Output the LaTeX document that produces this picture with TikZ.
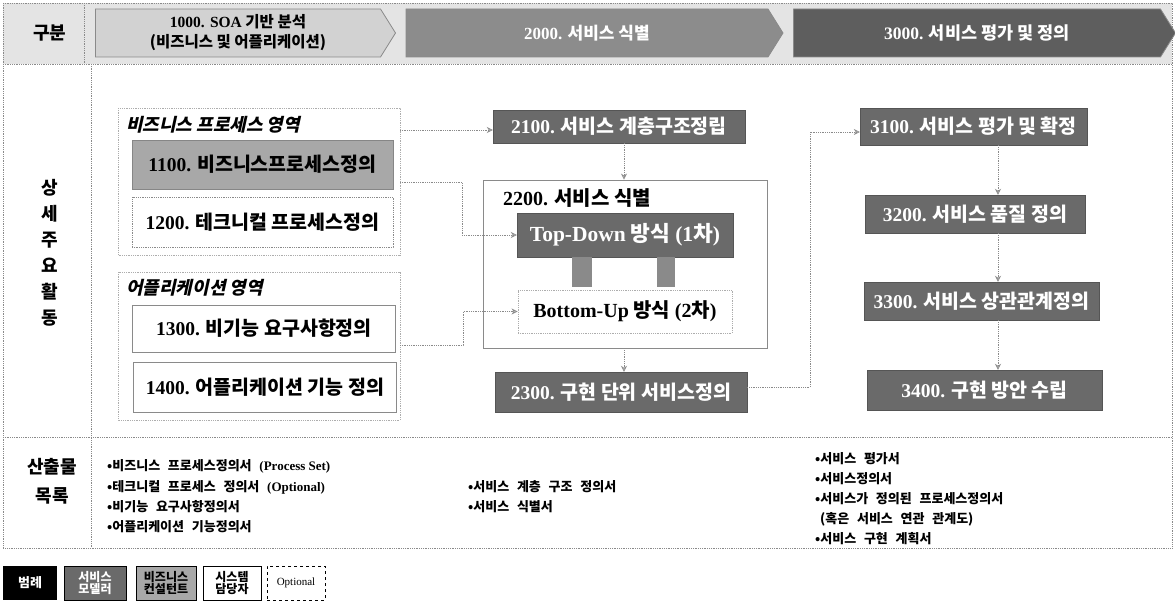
\documentclass[tikz,border=0pt]{standalone}
\usepackage{fontspec}
\setmainfont{Noto Sans CJK KR}
\newfontfamily\lat{Liberation Serif}
\newfontfamily\krit{Noto Sans CJK KR}[FakeSlant=0.22]
\newfontfamily\krwide{Noto Sans CJK KR}[WordSpace=2.6]
\usetikzlibrary{shapes.symbols,arrows.meta,calc}
\definecolor{hdrbg}{HTML}{E4E4E4}
\definecolor{arrA}{HTML}{D2D2D2}
\definecolor{arrB}{HTML}{8C8C8C}
\definecolor{arrC}{HTML}{5E5E5E}
\definecolor{darkbox}{HTML}{6A6A6A}
\definecolor{midbox}{HTML}{A8A8A8}
\definecolor{lineg}{HTML}{8A8A8A}
\tikzset{
  frameline/.style={draw=lineg, densely dotted, line width=0.8pt},
  hdrarrow/.style={signal, signal to=east, signal pointer angle=116, minimum height=48pt, inner sep=0pt, draw=lineg, line width=0.8pt},
  darkbox/.style={rectangle, fill=darkbox, draw=darkbox!80!black, text=white, font=\fontsize{19.5}{22}\selectfont\bfseries, inner sep=0pt},
  whitebox/.style={rectangle, fill=white, draw=lineg, line width=0.8pt, text=black, font=\fontsize{19.5}{22}\selectfont\bfseries, inner sep=0pt},
  grouptitle/.style={anchor=west, font=\krit\fontsize{18}{21}\selectfont\bfseries, inner sep=0pt},
  flow/.style={draw=lineg, line width=0.8pt, densely dotted, -{Stealth[length=6pt,width=6pt,open]}},
  bullet/.style={anchor=west, font=\krwide\fontsize{13}{15}\selectfont\bfseries, inner sep=0pt},
  lbl/.style={font=\fontsize{18}{21}\selectfont\bfseries, inner sep=0pt},
  legend/.style={rectangle, minimum height=34pt, inner sep=0pt, font=\fontsize{12}{12.5}\selectfont\bfseries, align=center}
}
\begin{document}
\begin{tikzpicture}[x=1pt,y=-1pt]
\useasboundingbox (0,0) rectangle (1175,604);
% header row background
\fill[hdrbg] (3,3) rectangle (1172,64);
% outer frame and rows
\draw[frameline] (3,3) rectangle (1172,548);
\draw[frameline] (3,64) -- (1172,64);
\draw[frameline] (3,437) -- (1172,437);
\draw[frameline] (91,64) -- (91,548);
\draw[frameline] (84,3) -- (84,64);

% header
\node[lbl] (gubun) at (50,33) {구분};
\node[hdrarrow, fill=arrA, minimum width=300pt, align=center, font=\fontsize{15.5}{20}\selectfont\bfseries] (h1) at (238,33) {{\lat 1000. SOA} 기반 분석\\({비즈니스 및 어플리케이션})};
\node[hdrarrow, fill=arrB, minimum width=377pt, text=white, font=\fontsize{17}{20}\selectfont\bfseries] (h2) at (587,33) {{\lat 2000.} 서비스 식별};
\node[hdrarrow, fill=arrC, minimum width=382pt, text=white, font=\fontsize{17.5}{20}\selectfont\bfseries] (h3) at (977,33) {{\lat 3000.} 서비스 평가 및 정의};

% middle label
\node[lbl, align=center, font=\fontsize{18}{26}\selectfont\bfseries] (sangse) at (50,253) {상\\세\\주\\요\\활\\동};

% business process group
\draw[frameline, draw=lineg!70] (118,108) rectangle (400,255);
\node[grouptitle] (bpt) at (126,125) {비즈니스 프로세스 영역};
\node[rectangle, fill=midbox, draw=midbox!80!black, minimum width=261pt, minimum height=49pt, inner sep=0pt, font=\fontsize{19.5}{22}\selectfont\bfseries] (b1100) at (262.5,164.5) {{\lat 1100.} 비즈니스프로세스정의};
\node[whitebox, densely dotted, minimum width=261pt, minimum height=50pt] (b1200) at (262.5,222) {{\lat 1200.} 테크니컬 프로세스정의};

% application group
\draw[frameline, draw=lineg!70] (118,272) rectangle (400,420);
\node[grouptitle] (apt) at (126,288) {어플리케이션 영역};
\node[whitebox, minimum width=263pt, minimum height=47pt] (b1300) at (264,328.5) {{\lat 1300.} 비기능 요구사항정의};
\node[whitebox, minimum width=263pt, minimum height=50pt] (b1400) at (265,387) {{\lat 1400.} 어플리케이션 기능 정의};

% service identification column
\node[darkbox, minimum width=252pt, minimum height=33pt] (b2100) at (619,126.5) {{\lat 2100.} 서비스 계층구조정립};
\node[rectangle, draw=lineg, line width=0.8pt, fill=white, minimum width=284pt, minimum height=168pt, inner sep=0pt] (b2200) at (625,264) {};
\node[anchor=west, font=\fontsize{20}{23}\selectfont\bfseries, inner sep=0pt] (t2200) at (503,198) {{\lat 2200.} 서비스 식별};
\node[darkbox, minimum width=216pt, minimum height=44pt, font=\fontsize{21.5}{24}\selectfont\bfseries] (td) at (625,235) {{\lat Top-Down} 방식 {\lat (1}차{\lat )}};
\node[whitebox, densely dotted, draw=lineg!70, minimum width=214pt, minimum height=43pt, font=\fontsize{20}{23}\selectfont\bfseries] (bu) at (625,311.5) {{\lat Bottom-Up} 방식 {\lat (2}차{\lat )}};
\node[rectangle, fill=lineg, minimum width=20pt, minimum height=30pt, inner sep=0pt, anchor=north] (lk1) at (582,257) {};
\node[rectangle, fill=lineg, minimum width=18pt, minimum height=30pt, inner sep=0pt, anchor=north] (lk2) at (666,257) {};
\node[darkbox, minimum width=252pt, minimum height=40pt] (b2300) at (621,392) {{\lat 2300.} 구현 단위 서비스정의};

% evaluation column
\node[darkbox, minimum width=227pt, minimum height=37pt] (b3100) at (973.5,126.5) {{\lat 3100.} 서비스 평가 및 확정};
\node[darkbox, minimum width=220pt, minimum height=38pt] (b3200) at (975,214) {{\lat 3200.} 서비스 품질 정의};
\node[darkbox, minimum width=235pt, minimum height=38pt] (b3300) at (981.5,301) {{\lat 3300.} 서비스 상관관계정의};
\node[darkbox, minimum width=235pt, minimum height=40pt] (b3400) at (984.5,390) {{\lat 3400.} 구현 방안 수립};

% connectors
\coordinate (c1) at (400,130);
\coordinate (c2) at (400,182);
\coordinate (c3) at (400,345);
\coordinate (c4) at (810,387);
\draw[flow] (c1) -- (c1 -| b2100.west);
\draw[flow] (c2) -- (462,182) |- (td.west);
\draw[flow] (c3) -- (463,345) |- (bu.west);
\draw[flow] (b2100.south -| 624,0) -- (b2200.north -| 624,0);
\draw[flow] (b2200.south -| 624,0) -- (b2300.north -| 624,0);
\draw[flow] (b2300.east |- c4) -- (c4) |- (b3100.west |- 0,132);
\draw[flow] (b3100.south -| 998,0) -- (b3200.north -| 998,0);
\draw[flow] (b3200.south -| 998,0) -- (b3300.north -| 998,0);
\draw[flow] (b3300.south -| 998,0) -- (b3400.north -| 998,0);

% outputs row
\node[lbl, align=center, font=\fontsize{18}{29}\selectfont\bfseries] (sanchul) at (52,481) {산출물\\목록};
\node[bullet] (o1) at (107,466) {•비즈니스 프로세스정의서 {\lat (Process Set)}};
\node[bullet] (o2) at (107,487) {•테크니컬 프로세스 정의서 {\lat (Optional)}};
\node[bullet] (o3) at (107,507) {•비기능 요구사항정의서};
\node[bullet] (o4) at (107,527) {•어플리케이션 기능정의서};
\node[bullet] (o5) at (468,487) {•서비스 계층 구조 정의서};
\node[bullet] (o6) at (468,507) {•서비스 식별서};
\node[bullet] (o7) at (815,459) {•서비스 평가서};
\node[bullet] (o8) at (815,479) {•서비스정의서};
\node[bullet] (o9) at (815,499) {•서비스가 정의된 프로세스정의서};
\node[bullet] (o10) at (820,519) {(혹은 서비스 연관 관계도)};
\node[bullet] (o11) at (815,539) {•서비스 구현 계획서};

% legend
\node[legend, fill=black, text=white, minimum width=54pt, font=\fontsize{13}{14}\selectfont\bfseries] (lg0) at (30,583) {범례};
\node[legend, fill=darkbox, draw=black, text=white, minimum width=62pt] (lg1) at (95,583) {서비스\\모델러};
\node[legend, fill=midbox, draw=black, minimum width=60pt] (lg2) at (166,583) {비즈니스\\컨설턴트};
\node[legend, fill=white, draw=black, line width=0.8pt, minimum width=58pt] (lg3) at (232,583) {시스템\\담당자};
\node[legend, fill=white, draw=black, dashed, minimum width=58pt, font=\lat\fontsize{11}{12}\selectfont] (lg4) at (296,583) {Optional};
\end{tikzpicture}
\end{document}
